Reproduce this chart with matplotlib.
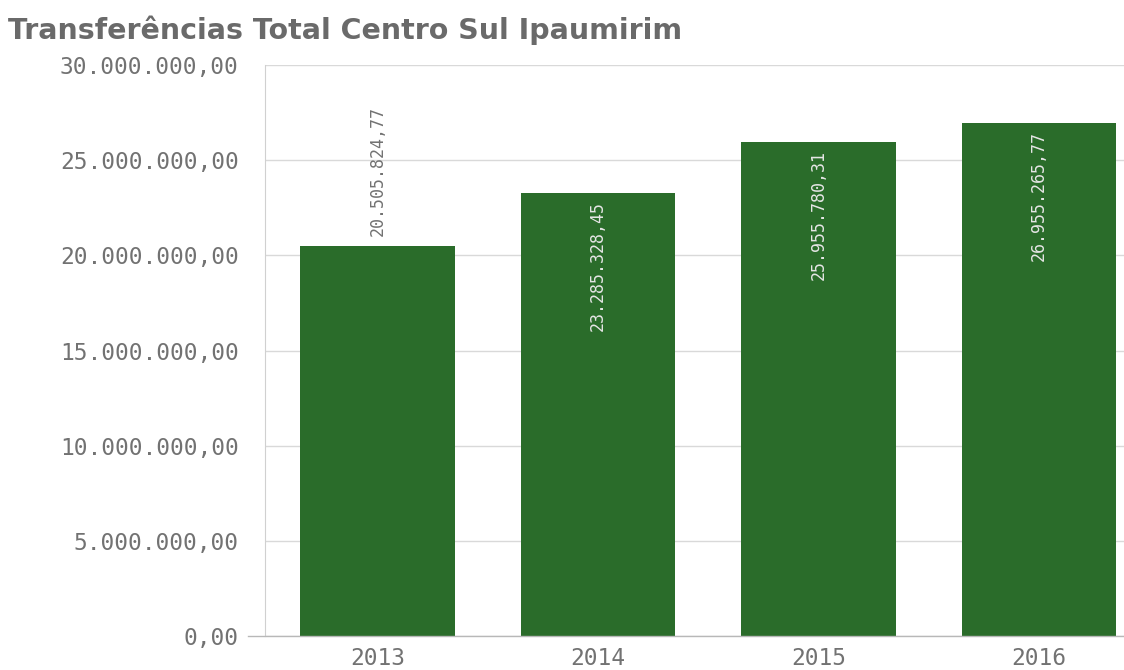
import matplotlib
matplotlib.use("Agg")
import matplotlib.pyplot as plt

years = ["2013", "2014", "2015", "2016"]
valores = [20505824.77, 23285328.45, 25955780.31, 26955265.77]
label_inside = [False, True, True, True]
yticks = [0, 5000000, 10000000, 15000000, 20000000, 25000000, 30000000]

bar_color = "#2a6c2a"
text_gray = "#727272"


def fmt_br(v):
    s = f"{v:,.2f}"
    return s.replace(",", "X").replace(".", ",").replace("X", ".")


fig = plt.figure(figsize=(11.24, 6.70), dpi=100)
ax = fig.add_axes([0.2358, 0.0507, 0.7642, 0.8522])

x = range(len(years))
ax.bar(x, valores, width=0.70, color=bar_color, zorder=2)

ax.set_xlim(-0.51, 3.385)
ax.set_ylim(0, 30000000)
ax.set_yticks(yticks)
ax.set_yticklabels([fmt_br(t) for t in yticks], family="DejaVu Sans Mono",
                   fontsize=16.5, color=text_gray)
ax.set_xticks(list(x))
ax.set_xticklabels(years, family="DejaVu Sans Mono", fontsize=16.5, color=text_gray)
ax.tick_params(axis="y", length=0, pad=19)
ax.tick_params(axis="x", length=0, pad=8)

ax.grid(axis="y", color="#d9d9d9", linewidth=1, zorder=0)
for side in ["top", "right", "bottom"]:
    ax.spines[side].set_visible(False)
ax.spines["left"].set_color("#d0d0d0")
# baseline runs a little past the left spine, like the original
ax.plot([-0.02, 1], [0, 0], transform=ax.transAxes, color="#b8b8b8",
        linewidth=1, clip_on=False, zorder=4)

for i, v in enumerate(valores):
    if label_inside[i]:
        ax.annotate(fmt_br(v), (i, v), xytext=(0, -6), textcoords="offset points",
                    rotation=90, ha="center", va="top", fontsize=12,
                    family="DejaVu Sans Mono", color="#e6e6e6", zorder=3)
    else:
        ax.annotate(fmt_br(v), (i, v), xytext=(0, 7), textcoords="offset points",
                    rotation=90, ha="center", va="bottom", fontsize=12,
                    family="DejaVu Sans Mono", color=text_gray, zorder=3)

fig.text(0.007, 0.955, "Transferências Total Centro Sul Ipaumirim",
         fontsize=20.5, fontweight="bold", color="#6a6a6a", va="center", ha="left")

fig.savefig("out.png", dpi=100)
